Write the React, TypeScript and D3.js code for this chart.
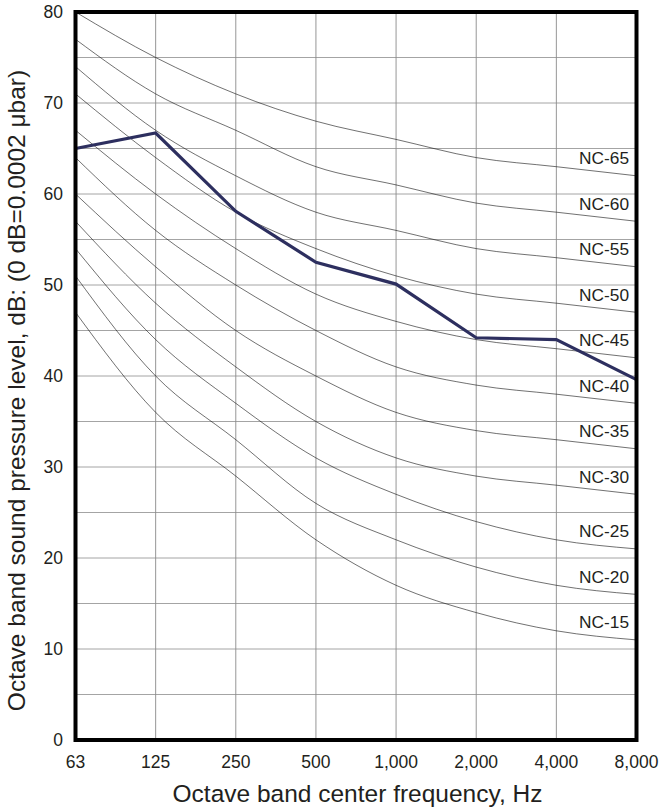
import React from "react";
import * as d3 from "d3";

const freqLabels = ["63", "125", "250", "500", "1,000", "2,000", "4,000", "8,000"];
const yTicks = [0, 10, 20, 30, 40, 50, 60, 70, 80];

const ncNames = ["NC-65", "NC-60", "NC-55", "NC-50", "NC-45", "NC-40", "NC-35", "NC-30", "NC-25", "NC-20", "NC-15"];
const nc65 = [80, 75, 71, 68, 66, 64, 63, 62];
const nc60 = [77, 71, 67, 63, 61, 59, 58, 57];
const nc55 = [74, 67, 62, 58, 56, 54, 53, 52];
const nc50 = [71, 64, 58, 54, 51, 49, 48, 47];
const nc45 = [67, 60, 54, 49, 46, 44, 43, 42];
const nc40 = [64, 56, 50, 45, 41, 39, 38, 37];
const nc35 = [60, 52, 45, 40, 36, 34, 33, 32];
const nc30 = [57, 48, 41, 35, 31, 29, 28, 27];
const nc25 = [54, 44, 37, 31, 27, 24, 22, 21];
const nc20 = [51, 40, 33, 26, 22, 19, 17, 16];
const nc15 = [47, 36, 29, 22, 17, 14, 12, 11];
const ncCurves = [nc65, nc60, nc55, nc50, nc45, nc40, nc35, nc30, nc25, nc20, nc15];

const measured = [65, 66.7, 58.1, 52.5, 50.1, 44.2, 44.0, 39.6];

const W = 666;
const H = 812;
const left = 75.5;
const right = 636.5;
const top = 12;
const bottom = 740;
const font = "'Liberation Sans', Arial, Helvetica, sans-serif";
const textColor = "#231f20";

export default function App() {
  const x = d3.scalePoint<string>().domain(freqLabels).range([left, right]);
  const y = d3.scaleLinear().domain([0, 80]).range([bottom, top]);
  const gridY = d3.range(0, 81, 5);

  const line = d3
    .line<number>()
    .x((_, i) => x(freqLabels[i]) as number)
    .y((d) => y(d))
    .curve(d3.curveMonotoneX);
  const straight = d3
    .line<number>()
    .x((_, i) => x(freqLabels[i]) as number)
    .y((d) => y(d));

  return (
    <svg width={W} height={H} style={{ position: "absolute", left: 0, top: 0, background: "#fff" }} fontFamily={font}>
      <defs>
        <clipPath id="plot">
          <rect x={left} y={top} width={right - left} height={bottom - top} />
        </clipPath>
      </defs>
      {gridY.map((v) => (
        <line key={"gy" + v} x1={left} x2={right} y1={y(v)} y2={y(v)} stroke="#9a9a9a" strokeWidth={0.9} />
      ))}
      {freqLabels.map((f) => (
        <line key={"gx" + f} x1={x(f)} x2={x(f)} y1={top} y2={bottom} stroke="#8a8a8a" strokeWidth={0.9} />
      ))}
      <g clipPath="url(#plot)">
        {ncCurves.map((c, i) => (
          <path key={"nc" + i} d={line(c) || ""} fill="none" stroke="#111" strokeWidth={0.6} />
        ))}
      </g>
      {ncCurves.map((c, i) => (
        <text
          key={"ncl" + i}
          x={629}
          y={y(c[c.length - 1]) - 11.5}
          textAnchor="end"
          fontSize={17.3}
          fill={textColor}
        >
          {ncNames[i]}
        </text>
      ))}
      <path d={straight(measured) || ""} fill="none" stroke="#2d2f5f" strokeWidth={3.2} strokeLinejoin="miter" />
      <rect x={left} y={top} width={right - left} height={bottom - top} fill="none" stroke="#000" strokeWidth={4} />
      {yTicks.map((t) => (
        <text key={"yt" + t} x={63} y={y(t)} dy="0.35em" textAnchor="end" fontSize={17.5} fill={textColor}>
          {t}
        </text>
      ))}
      {freqLabels.map((f) => (
        <text key={"xt" + f} x={x(f)} y={768} textAnchor="middle" fontSize={17.5} fill={textColor}>
          {f}
        </text>
      ))}
      <text x={357.5} y={802} textAnchor="middle" fontSize={24.5} fill={textColor}>
        Octave band center frequency, Hz
      </text>
      <text
        transform={`translate(25, 390.5) rotate(-90)`}
        textAnchor="middle"
        fontSize={24.5}
        fill={textColor}
      >
        Octave band sound pressure level, dB: (0 dB=0.0002 μbar)
      </text>
    </svg>
  );
}
